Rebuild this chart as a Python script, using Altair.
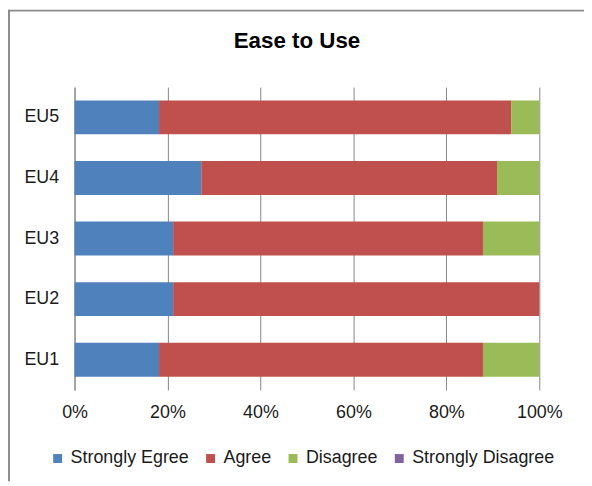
import altair as alt
import pandas as pd

items = ["EU1", "EU2", "EU3", "EU4", "EU5"]
responses = ["Strongly Egree", "Agree", "Disagree", "Strongly Disagree"]
strongly_agree = [6, 7, 7, 9, 6]
agree = [23, 26, 22, 21, 25]
disagree = [4, 0, 4, 3, 2]
strongly_disagree = [0, 0, 0, 0, 0]
colors = ["#4F81BD", "#C0504D", "#9BBB59", "#8064A2"]
x_ticks = [0, 0.2, 0.4, 0.6, 0.8, 1.0]
title_text = "Ease to Use"

series = [strongly_agree, agree, disagree, strongly_disagree]
rows = []
for ri, (resp, vals) in enumerate(zip(responses, series)):
    for item, v in zip(items, vals):
        rows.append({"item": item, "response": resp, "count": v, "order": ri})
df = pd.DataFrame(rows)

FONT = "Liberation Sans"

bars = alt.Chart(df).mark_bar().encode(
    y=alt.Y("item:N", sort=list(reversed(items)),
            scale=alt.Scale(paddingInner=0.44, paddingOuter=0.22),
            axis=alt.Axis(title=None, ticks=False, labelPadding=16,
                          labelFontSize=18, labelFont=FONT, labelColor="#1a1a1a",
                          domain=True, domainColor="#868686", domainWidth=1,
                          grid=False)),
    x=alt.X("count:Q", stack="normalize",
            scale=alt.Scale(domain=[0, 1], nice=False),
            axis=alt.Axis(title=None, values=x_ticks, format=".0%", ticks=False,
                          labelFlush=False,
                          labelPadding=14, labelFontSize=18, labelFont=FONT,
                          labelColor="#1a1a1a", domain=False, grid=True,
                          gridColor="#868686", gridWidth=1)),
    color=alt.Color("response:N", sort=responses,
                    scale=alt.Scale(domain=responses, range=colors),
                    legend=alt.Legend(title=None, orient="none", direction="horizontal",
                                      legendX=-26, legendY=365,
                                      symbolType="square", symbolSize=81,
                                      symbolStrokeWidth=0, labelFontSize=18,
                                      labelFont=FONT, labelColor="#1a1a1a",
                                      labelOffset=4, columnPadding=12)),
    order=alt.Order("order:Q", sort="ascending"),
)

title_df = pd.DataFrame({"t": [title_text]})
title = alt.Chart(title_df).mark_text(
    font=FONT, fontSize=22.5, fontWeight="bold", color="#000000",
    align="center", baseline="alphabetic"
).encode(text="t:N", x=alt.value(224), y=alt.value(-39))

frame_df = pd.DataFrame({"a": [0]})
left_line = alt.Chart(frame_df).mark_rule(color="#8c8c8c", strokeWidth=2).encode(
    x=alt.value(-66), y=alt.value(-78), y2=alt.value(397))
top_line = alt.Chart(frame_df).mark_rule(color="#8c8c8c", strokeWidth=2).encode(
    y=alt.value(-77), x=alt.value(-67), x2=alt.value(513))

chart = alt.layer(bars, title, left_line, top_line).properties(
    width=468, height=305,
    autosize=alt.AutoSizeParams(type="none"),
    padding={"left": 67, "top": 78, "right": 45, "bottom": 92},
).configure_view(stroke=None)

chart.save("out.html", embed_options={"renderer": "svg", "actions": False})
